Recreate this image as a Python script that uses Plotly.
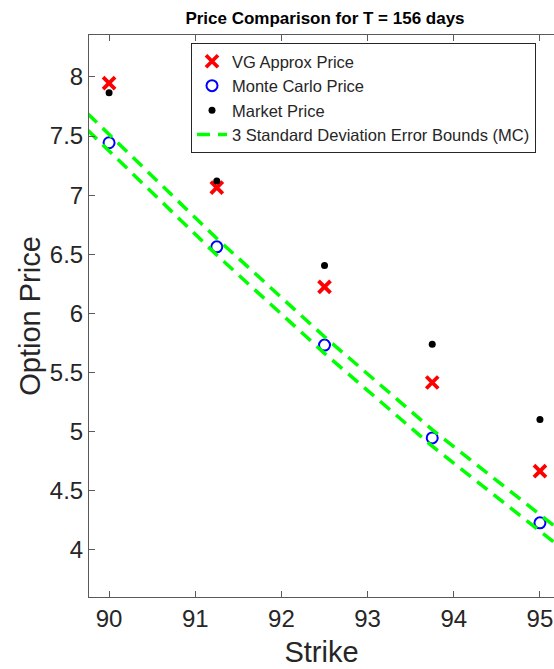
import plotly.graph_objects as go

# Strikes and prices for the T = 156 day maturity
strikes = [90, 91.25, 92.5, 93.75, 95]
vg_price = [7.947, 7.063, 6.225, 5.416, 4.666]
mc_price = [7.443, 6.563, 5.732, 4.947, 4.229]
market_price = [7.866, 7.120, 6.406, 5.740, 5.103]

# Monte Carlo 3-sigma error bounds, on a strike grid spanning the axis
bound_strikes = [89.75, 90, 91.25, 92.5, 93.75, 95, 95.25]
upper_bound = [7.690, 7.513, 6.633, 5.802, 5.017, 4.299, 4.155]
lower_bound = [7.550, 7.373, 6.493, 5.662, 4.877, 4.159, 4.015]

x_ticks = [90, 91, 92, 93, 94, 95]
y_ticks = [4, 4.5, 5, 5.5, 6, 6.5, 7, 7.5, 8]

FONT = "Liberation Sans, Arial, Helvetica, sans-serif"
AXIS_COLOR = "#262626"
FRAME_COLOR = "#5a5a5a"

fig = go.Figure()

fig.add_trace(go.Scatter(
    x=strikes, y=vg_price, mode="markers", name="VG Approx Price",
    marker=dict(symbol="x-thin", size=12, color="#ff0000",
                line=dict(color="#ff0000", width=3.8)),
))
fig.add_trace(go.Scatter(
    x=strikes, y=mc_price, mode="markers", name="Monte Carlo Price",
    marker=dict(symbol="circle-open", size=11, color="#0000ff",
                line=dict(color="#0000ff", width=2)),
))
fig.add_trace(go.Scatter(
    x=strikes, y=market_price, mode="markers", name="Market Price",
    marker=dict(symbol="circle", size=7, color="#000000"),
))
fig.add_trace(go.Scatter(
    x=bound_strikes, y=upper_bound, mode="lines",
    name="3 Standard Deviation Error Bounds (MC)",
    line=dict(color="#00ff00", width=3.5, dash="13px,8px"),
))
fig.add_trace(go.Scatter(
    x=bound_strikes, y=lower_bound, mode="lines", showlegend=False,
    line=dict(color="#00ff00", width=3.5, dash="13px,8px"),
))

fig.update_layout(
    width=554, height=669,
    margin=dict(l=89, r=0, t=35, b=72),
    paper_bgcolor="white", plot_bgcolor="white",
    font=dict(family=FONT, color=AXIS_COLOR),
    title=dict(
        text="<b>Price Comparison for T = 156 days</b>",
        font=dict(size=17, color="#000000", family=FONT),
        x=325 / 554, xanchor="center", xref="container",
        y=1 - 18 / 669, yanchor="middle", yref="container",
    ),
    legend=dict(
        x=(191 - 89) / 465, xanchor="left",
        y=1 - 8 / 562, yanchor="top",
        bgcolor="white", bordercolor=AXIS_COLOR, borderwidth=1,
        font=dict(size=16.5, family=FONT, color=AXIS_COLOR),
        tracegroupgap=0,
    ),
    showlegend=True,
)

fig.update_xaxes(
    range=[89.767, 95.163], tickvals=x_ticks,
    ticks="inside", ticklen=6, tickcolor=FRAME_COLOR,
    showline=True, linecolor=FRAME_COLOR, linewidth=1, mirror="ticks",
    showgrid=False, zeroline=False,
    tickfont=dict(size=24, family=FONT, color=AXIS_COLOR),
    title=dict(text="Strike", font=dict(size=29, family=FONT, color=AXIS_COLOR), standoff=10),
)
fig.update_yaxes(
    range=[3.602, 8.354], tickvals=y_ticks,
    ticks="inside", ticklen=6, tickcolor=FRAME_COLOR,
    showline=True, linecolor=FRAME_COLOR, linewidth=1, mirror=False,
    showgrid=False, zeroline=False,
    tickfont=dict(size=24, family=FONT, color=AXIS_COLOR),
    title=dict(text="Option Price", font=dict(size=29, family=FONT, color=AXIS_COLOR), standoff=0),
)

fig.write_html("out.html")
